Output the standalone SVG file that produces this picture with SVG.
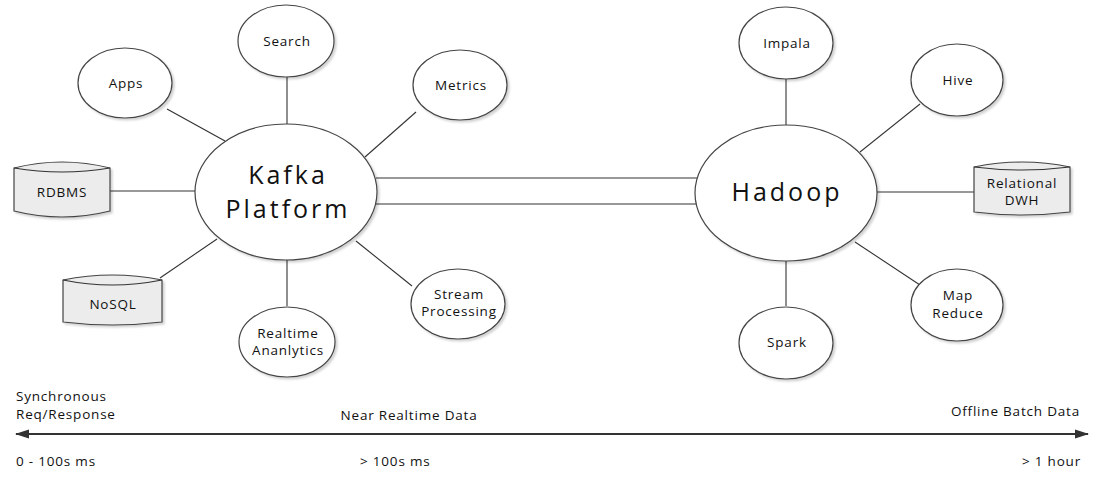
<svg xmlns="http://www.w3.org/2000/svg" width="1114" height="478" viewBox="0 0 1114 478">
<defs>
<style>
.n{fill:#fff;stroke:#444;stroke-width:1.2}
.cyl{fill:#ececec;stroke:#444;stroke-width:1.2}
.l{stroke:#333;stroke-width:1.1;fill:none}
text{font-family:"Open Sans","Noto Sans",sans-serif;fill:#111}
.s{font-size:13.5px;letter-spacing:0.8px;text-anchor:middle}
.b{font-size:25px;letter-spacing:3px;text-anchor:middle}
.t{font-size:13.5px;letter-spacing:0.8px}
</style>
<filter id="sh" x="-20%" y="-20%" width="140%" height="140%"><feDropShadow dx="2" dy="2" stdDeviation="1.2" flood-color="#000" flood-opacity="0.18"/></filter>
<marker id="ah" viewBox="0 0 14 10" refX="13" refY="5" markerWidth="14" markerHeight="10" markerUnits="userSpaceOnUse" orient="auto-start-reverse"><path d="M0,0.5 L14,5 L0,9.5 z" fill="#333"/></marker>
</defs>
<g id="connectors">
<line class="l" x1="287" y1="77" x2="287" y2="124"/>
<line class="l" x1="167" y1="109" x2="225" y2="141"/>
<line class="l" x1="416" y1="112" x2="365" y2="157"/>
<line class="l" x1="110" y1="191" x2="195" y2="191"/>
<line class="l" x1="160" y1="278" x2="217" y2="239"/>
<line class="l" x1="412" y1="286" x2="356" y2="241"/>
<line class="l" x1="287" y1="306" x2="287" y2="260"/>
<line class="l" x1="376" y1="178" x2="697" y2="178" stroke="#666"/>
<line class="l" x1="376" y1="204" x2="697" y2="204"/>
<line class="l" x1="786" y1="79" x2="786" y2="125"/>
<line class="l" x1="920" y1="104" x2="860" y2="152"/>
<line class="l" x1="876" y1="192" x2="974" y2="192"/>
<line class="l" x1="920" y1="285" x2="855" y2="242"/>
<line class="l" x1="786" y1="306" x2="786" y2="261"/>
<line x1="16" y1="434" x2="1088" y2="434" stroke="#333" stroke-width="2" marker-start="url(#ah)" marker-end="url(#ah)"/>
</g>
<g id="kafka"><ellipse class="n" cx="286" cy="192" rx="91" ry="68" filter="url(#sh)"/><text class="b" x="288" y="184">Kafka</text><text class="b" x="288" y="218">Platform</text></g>
<g id="hadoop"><ellipse class="n" cx="786" cy="193" rx="91" ry="68" filter="url(#sh)"/><text class="b" x="787" y="201">Hadoop</text></g>
<g id="search"><ellipse class="n" cx="286" cy="41" rx="48" ry="36" filter="url(#sh)"/><text class="s" x="287" y="46">Search</text></g>
<g id="apps"><ellipse class="n" cx="125" cy="83" rx="47" ry="35" filter="url(#sh)"/><text class="s" x="126" y="88">Apps</text></g>
<g id="metrics"><ellipse class="n" cx="460" cy="85" rx="47" ry="35" filter="url(#sh)"/><text class="s" x="461" y="90">Metrics</text></g>
<g id="stream"><ellipse class="n" cx="458" cy="304" rx="47" ry="35" filter="url(#sh)"/><text class="s" x="459" y="299">Stream</text><text class="s" x="459" y="316">Processing</text></g>
<g id="realtime"><ellipse class="n" cx="287" cy="342" rx="48" ry="35" filter="url(#sh)"/><text class="s" x="288" y="338">Realtime</text><text class="s" x="288" y="355">Ananlytics</text></g>
<g id="rdbms"><path class="cyl" filter="url(#sh)" d="M14,168 Q62,156 110,168 L110,211 Q62,223 14,211 Z"/><path class="l" d="M14,168 Q62,176 110,168"/><text class="s" x="62" y="197">RDBMS</text></g>
<g id="nosql"><path class="cyl" filter="url(#sh)" d="M63,280 Q112,270 162,280 L162,322 Q112,328 63,322 Z"/><path class="l" d="M63,280 Q112,290 162,280"/><text class="s" x="113" y="309">NoSQL</text></g>
<g id="dwh"><path class="cyl" filter="url(#sh)" d="M974,167 Q1022,157 1070,167 L1070,212 Q1022,218 974,212 Z"/><path class="l" d="M974,167 Q1022,173 1070,167"/><text class="s" x="1022" y="188">Relational</text><text class="s" x="1022" y="205">DWH</text></g>
<g id="impala"><ellipse class="n" cx="786" cy="43" rx="47" ry="36" filter="url(#sh)"/><text class="s" x="787" y="48">Impala</text></g>
<g id="hive"><ellipse class="n" cx="957" cy="80" rx="46" ry="36" filter="url(#sh)"/><text class="s" x="958" y="85">Hive</text></g>
<g id="mapreduce"><ellipse class="n" cx="957" cy="305" rx="46" ry="36" filter="url(#sh)"/><text class="s" x="958" y="300">Map</text><text class="s" x="958" y="318">Reduce</text></g>
<g id="spark"><ellipse class="n" cx="786" cy="343" rx="47" ry="36" filter="url(#sh)"/><text class="s" x="787" y="347">Spark</text></g>
<g id="timeline">
<text class="t" x="16" y="401">Synchronous</text>
<text class="t" x="16" y="419">Req/Response</text>
<text class="s" x="409" y="420">Near Realtime Data</text>
<text class="t" x="1080" y="416" text-anchor="end">Offline Batch Data</text>
<text class="t" x="16" y="466">0 - 100s ms</text>
<text class="t" x="360" y="466">&gt; 100s ms</text>
<text class="t" x="1081" y="466" text-anchor="end">&gt; 1 hour</text>
</g>
</svg>
